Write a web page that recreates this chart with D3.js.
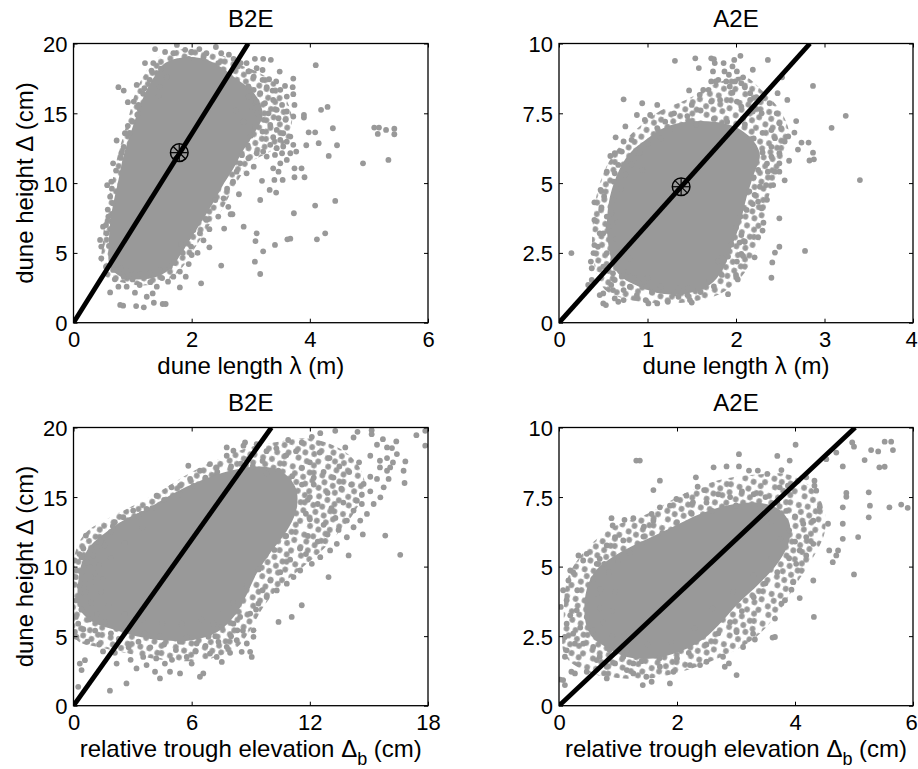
<!DOCTYPE html>
<html><head><meta charset="utf-8">
<script src="https://cdn.jsdelivr.net/npm/d3@7/dist/d3.min.js"></script>
<style>html,body{margin:0;padding:0;background:#fff;}svg{display:block;}</style>
</head><body>
<script>
// ---------- DATA ----------
const panelTitles = ["B2E", "A2E", "B2E", "A2E"];
const xLabelLength = "dune length λ (m)";
const yLabelHeight = "dune height Δ (cm)";

const xTicksLenB = [0, 2, 4, 6];
const xTicksLenA = [0, 1, 2, 3, 4];
const xTicksTroughB = [0, 6, 12, 18];
const xTicksTroughA = [0, 2, 4, 6];
const yTicksB = [0, 5, 10, 15, 20];
const yTicksA = [0, 2.5, 5, 7.5, 10];

// fitted lines through the origin (end points)
const fitLenB = [[0, 0], [2.958, 20]];
const fitLenA = [[0, 0], [2.836, 10]];
const fitTroughB = [[0, 0], [10.05, 20]];
const fitTroughA = [[0, 0], [5.02, 10]];

// mean markers
const meanLenB = [1.79, 12.18];
const meanLenA = [1.38, 4.87];

// dense cores: outline of the region fully covered by overlapping dots
const coreLenB = [[0.62,4.0],[0.6,6.0],[0.65,8.0],[0.75,10.0],[0.85,12.0],[0.97,13.6],[1.08,15.0],[1.22,16.5],[1.38,17.7],[1.55,18.6],[1.85,19.0],[2.2,18.9],[2.5,18.3],[2.75,17.5],[3.0,16.7],[3.15,15.8],[3.2,14.8],[3.05,13.5],[2.85,12.2],[2.7,11.0],[2.55,10.0],[2.42,9.0],[2.28,8.0],[2.13,7.0],[1.98,6.0],[1.83,5.0],[1.67,4.0],[1.45,3.35],[1.1,3.1],[0.8,3.3]];
const coreLenA = [[0.62,2.0],[0.55,3.0],[0.55,4.0],[0.62,5.0],[0.78,6.0],[1.0,6.6],[1.2,7.0],[1.45,7.2],[1.75,7.2],[2.0,7.0],[2.2,6.5],[2.27,6.0],[2.2,5.3],[2.12,4.5],[2.05,3.6],[1.95,2.7],[1.85,1.9],[1.7,1.35],[1.45,1.05],[1.15,1.05],[0.9,1.3],[0.72,1.6]];
const coreTroughB = [[0.3,7.0],[0.3,9.5],[0.7,11.2],[1.5,12.3],[2.5,13.3],[3.8,14.2],[5.0,15.2],[6.5,16.2],[8.0,16.9],[9.5,17.2],[10.6,16.8],[11.3,15.6],[11.3,14.0],[10.8,12.5],[10.0,11.0],[9.3,9.5],[8.8,8.0],[8.2,6.5],[7.3,5.3],[6.0,4.7],[4.5,4.7],[3.2,5.0],[2.0,5.5],[1.0,6.0]];
const coreTroughA = [[0.45,3.0],[0.45,4.0],[0.6,4.8],[0.95,5.4],[1.4,5.9],[1.9,6.4],[2.4,6.9],[2.85,7.2],[3.35,7.3],[3.7,7.1],[3.9,6.6],[3.9,5.9],[3.7,5.1],[3.4,4.4],[3.05,3.7],[2.75,3.0],[2.45,2.4],[2.05,1.95],[1.6,1.7],[1.15,1.75],[0.8,2.1],[0.55,2.5]];

// halos: outline of the partly covered (speckled) region around each core
const haloLenB = [[0.5,3.5],[0.5,6],[0.55,8],[0.65,10],[0.75,12],[0.85,13.5],[0.95,15],[1.05,16.5],[1.2,17.8],[1.4,18.9],[1.7,19.5],[2.1,19.6],[2.5,19.2],[2.8,18.5],[3.1,18.0],[3.4,17.2],[3.6,16.0],[3.7,14.5],[3.6,13],[3.3,12.2],[3.0,11.5],[2.8,10.3],[2.65,9.2],[2.5,8],[2.3,7],[2.15,6],[2.0,5],[1.85,4],[1.65,3.2],[1.3,2.7],[0.9,2.8]];
const haloLenA = [[0.45,1.5],[0.38,2.5],[0.38,3.5],[0.42,4.5],[0.52,5.5],[0.68,6.3],[0.9,7.0],[1.15,7.6],[1.45,8.0],[1.8,8.6],[2.1,8.8],[2.3,8.3],[2.5,7.6],[2.6,6.8],[2.55,6.0],[2.45,5.2],[2.35,4.3],[2.3,3.3],[2.2,2.4],[2.05,1.6],[1.8,1.0],[1.5,0.75],[1.1,0.7],[0.75,0.85],[0.55,1.1]];
const haloTroughB = [[0.05,5.0],[0.05,10.8],[0.6,12.4],[1.8,13.5],[3.2,14.5],[4.6,15.6],[6.0,16.8],[7.5,17.8],[9.0,18.6],[10.5,19.0],[12.0,19.2],[13.5,18.5],[14.5,17.2],[14.8,15.6],[14.3,14.0],[13.5,12.5],[12.5,11.0],[11.5,9.8],[10.5,8.6],[9.6,7.0],[9.0,5.5],[8.3,4.2],[7.0,3.4],[5.5,3.2],[4.0,3.4],[2.6,3.8],[1.3,4.2],[0.4,4.5]];
const haloTroughA = [[0.1,1.8],[0.08,3.2],[0.15,4.6],[0.45,5.6],[0.9,6.4],[1.5,6.9],[2.1,7.6],[2.7,8.1],[3.3,8.3],[3.9,8.3],[4.3,7.8],[4.5,7.0],[4.5,6.2],[4.3,5.3],[4.0,4.3],[3.7,3.3],[3.3,2.4],[2.8,1.8],[2.2,1.3],[1.6,1.0],[1.0,1.0],[0.5,1.2]];

// individual dots (x, y)
const ptsLenB = [[1.75,19.9],[1.38,19.6],[1.55,19.4],[1.69,19.3],[1.89,19.55],[2.0,19.4],[2.13,19.6],[2.25,19.3],[2.41,19.75],[2.5,19.3],[2.63,19.2],[2.71,18.9],
[1.21,18.6],[1.32,18.06],[1.48,18.2],[1.58,17.6],[1.46,16.9],[1.29,17.4],[1.18,16.4],[1.44,16.25],[1.12,15.3],[1.02,15.84],[0.92,15.8],[1.08,14.9],[0.92,14.1],[0.73,13.05],[0.87,13.57],[0.81,12.14],[0.67,11.42],[0.64,10.1],[0.57,9.85],[0.76,16.87],[0.85,16.63],[1.07,17.03],
[2.83,18.6],[2.93,18.6],[2.78,18.35],[2.96,18.0],[3.07,18.9],[3.21,18.9],[3.34,18.83],[3.10,18.23],[3.20,18.1],[3.05,17.63],[3.2,17.4],[3.31,17.44],[3.49,17.99],[3.43,17.28],[3.58,16.96],[3.72,17.49],[3.71,16.87],[3.72,16.37],[3.61,16.2],[3.50,16.68],[3.37,16.63],[3.27,16.87],[3.16,16.44],[3.05,16.68],[2.96,16.92],[2.96,16.2],[3.10,15.84],[3.24,15.72],[3.38,15.96],[3.53,15.6],[3.61,15.13],[3.44,15.25],[3.30,15.0],[3.74,15.6],[3.90,14.89],[3.90,14.7],[3.72,14.77],[3.59,14.53],[3.47,14.65],[3.22,14.53],[3.10,15.0],[3.01,15.48],[3.07,14.05],[3.20,13.69],[3.33,14.17],[3.44,13.81],[3.55,13.57],[3.38,13.29],[3.50,13.09],[3.61,12.97],[3.72,12.74],[3.67,13.33],[3.55,12.62],[3.44,12.5],[3.33,12.74],[3.21,12.26],[3.10,12.14],[3.27,11.9],[3.41,12.02],[3.53,12.14],[3.67,12.14],[3.77,12.26],[3.61,11.66],[3.50,11.42],[3.38,11.06],[3.47,10.82],[3.74,11.06],[3.86,11.06],[3.74,10.42],[3.91,10.42],[3.19,10.16],[3.40,10.23],[3.54,10.23],[3.32,9.51],[3.43,9.32],[3.16,8.79],[3.05,11.18],[2.93,10.7],[2.82,11.42],[2.96,11.78],[2.76,10.82],
[3.98,13.64],[4.09,13.64],[3.94,12.71],[4.15,12.86],[4.19,15.25],[4.30,15.46],[4.39,13.93],[4.32,11.95],[4.46,12.71],[4.10,18.45],[4.90,11.42],[5.09,13.98],[5.17,13.98],[5.29,13.81],[5.43,13.9],[5.15,13.52],[5.43,13.5],[5.33,11.66],
[4.43,8.72],[4.09,8.39],[4.26,6.4],[4.12,5.97],[3.73,7.84],[3.62,5.97],[3.67,6.02],[3.41,5.57],[3.21,5.11],[3.08,5.85],[3.10,6.4],[3.07,4.37],[3.16,3.49],[2.88,6.88],[2.66,7.77],[2.69,7.77],[2.55,6.74],[2.50,4.09],[2.30,5.40],[2.16,2.82],[2.0,4.85],[1.99,5.45],[1.82,5.64],[1.80,2.53],[2.25,7.36],[2.40,8.79],[2.54,8.91],[2.14,6.4],[2.03,6.64],
[0.45,5.93],[0.47,4.61],[0.55,4.01],[0.62,2.17],[0.79,1.27],[0.84,1.22],[1.06,1.19],[1.19,1.1],[1.36,1.43],[1.51,1.34],[1.56,1.34],[1.04,2.15],[1.24,1.86],[1.41,2.58],[1.34,2.1],[1.12,2.7],[0.90,2.58],[0.76,2.58],[0.70,3.11],[0.85,3.3],[1.60,2.94],[1.69,3.3],[1.80,3.66],[1.63,4.01],[1.46,3.78],[1.29,3.54],[1.12,3.49],[0.98,3.78],[0.67,3.78],[0.47,5.45],[0.56,6.4],[0.50,6.88],[0.59,7.6],[0.67,8.55],[0.62,9.03],
[2.6,9.6],[2.7,10.1],[2.62,8.3],[2.8,9.2],[2.45,7.6],[2.3,6.7],[2.2,5.9],[2.1,5.0],[1.95,4.2],[1.9,3.3],[2.85,12.0],[2.95,12.7],[3.0,13.4],[2.88,14.4],[2.75,15.2],[2.6,17.6],[2.45,18.6],[2.2,19.0],[1.95,18.9],
[0.7,5.0],[0.6,5.5],[0.55,7.0],[0.65,9.6],[0.72,10.9],[0.8,11.8],[0.85,12.6],[0.95,13.6],[1.0,14.4],[1.1,15.6],[1.2,16.8],[1.35,18.6],[0.58,8.1],[0.68,4.5],[0.8,3.9],[1.0,3.1],[1.3,2.9],[1.5,3.2],[1.7,4.3],[1.85,5.0]];

const ptsLenA = [[1.31,9.38],[1.54,9.47],[1.58,9.12],[1.72,9.47],[1.75,9.44],[1.76,9.3],[1.86,9.3],[1.96,9.18],[2.05,9.56],[1.98,9.41],[2.19,9.06],[2.36,9.41],[1.74,9.0],[1.87,9.0],[1.92,8.88],[2.01,9.0],[2.08,8.79],[2.06,8.58],[1.99,8.64],[1.89,8.64],[1.80,8.7],[1.77,8.64],[1.72,8.64],[1.63,8.34],[1.69,8.34],[1.93,8.46],[2.10,8.43],[2.16,8.22],[2.23,8.08],[2.47,8.22],[2.52,8.79],[2.58,7.98],[2.87,8.48],[3.24,7.41],[3.08,6.98],[3.40,5.11],[1.47,8.32],[1.59,8.16],[1.72,7.92],[1.82,7.98],[1.96,8.24],[2.01,7.92],[2.16,7.98],[2.06,7.74],[2.19,7.56],[2.29,7.5],[2.38,7.86],[2.46,7.5],[2.68,7.22],[2.66,6.81],[2.49,7.14],[2.51,6.97],[2.40,6.9],[2.59,6.67],[2.55,6.49],[2.44,6.61],[2.74,6.45],[2.82,6.45],[2.87,6.09],[2.83,5.81],[2.88,5.85],[2.49,6.07],[2.40,5.95],[2.49,5.71],[2.44,5.41],[2.36,5.41],[2.49,5.41],[2.42,4.93],[2.34,4.93],[2.25,5.47],[2.27,4.87],[2.21,4.58],[2.25,4.34],[2.29,4.10],[2.19,4.25],[2.12,4.04],[2.31,3.58],[2.49,3.74],[2.25,3.06],[2.21,2.34],[2.49,2.72],[2.44,2.51],[2.41,2.16],[2.40,1.61],[2.78,2.57],[2.06,2.46],[2.08,2.39],[2.01,2.19],[2.04,2.87],[2.06,3.14],[1.84,1.71],[2.00,1.71],[2.02,1.55],[1.91,1.02],[1.84,2.31],[1.91,2.37],
[1.50,0.72],[1.48,0.81],[1.35,0.93],[1.23,0.75],[1.11,0.69],[1.01,0.69],[0.98,0.81],[1.46,1.23],[1.57,1.23],[1.35,1.23],[1.12,1.17],[0.99,1.29],[0.88,0.99],[0.73,0.81],[0.67,0.75],[0.63,0.87],[0.50,0.69],[0.53,0.63],[0.50,1.05],[0.46,0.99],[0.61,1.17],[0.73,1.17],[0.80,1.29],[0.91,1.41],
[0.14,2.49],[0.33,1.35],[0.37,1.53],[0.37,1.95],[0.36,2.19],[0.39,2.49],[0.40,2.78],[0.46,3.2],[0.40,3.68],[0.48,4.13],[0.40,4.31],[0.51,4.52],[0.47,4.76],[0.62,5.05],[0.63,5.35],[0.54,5.41],[0.67,5.65],[0.58,5.97],[0.63,6.07],[0.71,6.13],[0.82,5.67],[0.73,6.49],[0.64,6.64],[0.75,7.03],[0.73,8.0],[0.94,7.86],[1.11,7.8],[1.03,7.44],[0.97,7.26],[0.88,7.44],[0.82,6.55],[0.91,6.09],[0.94,5.47],[1.11,6.97],
[0.50,3.2],[0.56,3.44],[0.54,3.8],[0.59,3.92],[0.44,2.72],[0.54,2.49],[0.50,2.01],[0.65,2.01],[0.61,1.77],[0.71,1.65],[0.78,1.83],[0.63,1.53],[0.59,1.35],
[1.2,7.2],[1.3,7.5],[1.45,7.4],[1.6,7.6],[1.5,7.8],[1.25,6.9],[1.9,7.2],[2.1,7.1],[2.3,6.8],[2.2,6.3],[2.3,6.1],[2.35,5.7],[2.2,5.2],[2.15,4.7],[2.05,3.8],[2.0,3.4],[1.95,2.8],[1.8,2.2],[1.7,1.5],[1.6,1.1],[1.3,1.05],[1.05,1.1],[0.85,1.6],[0.8,2.3],[0.7,2.6],[0.65,3.0],[0.66,3.6],[0.62,4.4],[0.7,4.8],[0.75,5.3],[0.85,5.9],[1.0,6.4],[1.15,6.6],[1.55,7.1],[1.75,7.3],[1.95,6.9],[2.2,6.6],[2.4,6.3],[1.0,1.6],[1.15,1.3],[1.45,1.0],[1.75,1.3],[2.1,2.9],[2.3,3.3],[2.35,4.4],[2.55,5.1],[2.6,5.8],[2.7,6.2]];

const ptsTroughB = [[17.41,19.45],[17.86,19.76],[17.86,18.69],[16.85,17.56],[16.76,16.89],[16.81,16.01],[16.39,19.0],[15.92,18.57],[16.17,18.52],[15.41,18.76],[15.71,19.16],[15.14,19.81],[15.14,19.52],[14.42,19.69],[14.22,19.28],[13.29,19.76],[12.53,19.59],[12.10,19.33],[11.59,18.92],[13.80,18.57],[15.07,17.97],[15.56,17.61],[15.92,17.8],[15.56,17.13],[16.08,17.13],[16.22,17.49],[15.41,16.3],[16.0,16.3],[15.07,16.46],[14.73,15.94],[15.07,15.41],[14.64,15.17],[14.64,14.5],[14.39,14.74],[14.22,14.03],[13.88,13.31],[13.46,12.64],[14.69,12.31],[15.83,12.23],[16.59,10.85],[13.97,10.8],[12.95,9.25],[11.59,7.22],[11.08,6.38],[10.41,6.02],[9.27,6.91],[9.14,5.42],[9.05,3.51],[8.97,3.87],[8.54,3.87],[8.32,5.42],[7.95,3.8],[7.53,3.15],[7.27,3.51],[6.93,3.75],[6.59,2.32],[6.42,2.08],[6.0,3.03],[5.75,3.51],[5.41,2.32],[4.90,2.44],[4.64,3.03],[4.39,1.96],[4.14,2.44],[3.71,2.92],[3.54,3.51],[3.20,2.68],[2.69,1.6],[1.85,1.08],[2.19,3.03],
[0.24,1.36],[0.41,2.56],[0.32,3.03],[0.58,3.27],[0.15,4.95],[0.07,5.3],[0.24,5.9],[0.12,6.38],[0.15,7.57],[0.32,7.81],[0.12,9.25],[0.05,10.44],[0.15,9.72],[0.63,12.23],[0.41,10.68],[0.83,9.96],[0.58,8.77],[1.17,11.4],[1.59,11.52],[2.1,13.19],[2.53,13.55],[3.03,14.03],[3.46,13.79],[3.71,14.15],[4.22,15.1],[4.98,15.7],[5.41,15.82],[5.92,16.3],[6.42,16.89],[6.93,17.37],[7.27,17.13],[7.78,17.97],[8.12,18.33],[8.63,18.69],[8.71,18.92],[7.78,18.57],[8.88,17.73],[5.83,17.25],
[5.75,4.95],[6.25,4.47],[6.85,4.95],[7.36,4.59],[7.78,4.23],[8.29,4.71],[8.80,4.47],[9.14,4.95],[8.12,5.9],[7.53,5.66],[7.10,5.9],[8.46,6.38],[8.97,6.62],[9.39,7.34],[9.81,7.81],[10.32,8.29],[10.83,8.77],[11.17,9.25],[11.51,9.72],[12.10,10.2],[12.53,10.68],[13.03,11.16],[13.37,11.64],[13.88,12.11],[14.22,12.83],[14.56,13.31],[14.9,13.79],[15.24,14.5],[15.58,14.98],[15.75,15.7],[15.92,16.89],[16.42,18.09],
[12.0,17.5],[12.5,18.2],[13.0,17.8],[13.5,17.2],[14.0,16.8],[14.5,17.5],[13.2,16.4],[12.7,16.8],[12.2,15.9],[12.9,15.3],[13.6,15.6],[14.1,15.9],[12.4,14.5],[13.1,14.2],[13.7,14.6],[12.0,13.4],[12.7,13.0],[13.3,13.5],[11.9,12.2],[12.4,11.8],[12.9,12.3],[11.5,11.3],[11.0,10.5],[11.8,10.9],[10.5,9.6],[10.0,9.0],[9.6,8.3],[11.3,18.3],[10.8,18.0],[10.3,18.5],[9.8,18.3],[9.3,18.8],[10.9,19.1],[9.6,17.6],[11.6,17.1],[12.2,16.4],[11.9,14.8],[11.8,13.8],
[0.5,5.5],[0.8,6.2],[0.4,6.9],[0.9,7.4],[0.6,8.2],[0.3,8.6],[0.9,8.9],[0.4,9.6],[1.1,9.5],[0.7,10.3],[0.3,10.9],[1.0,10.8],[1.3,10.1],[0.5,11.3],[1.4,11.9],[1.9,12.5],[1.2,6.6],[1.6,6.0],[1.1,5.4],[0.7,4.6],[1.3,4.4],[1.9,5.2],[1.5,3.9],[2.3,4.8],[2.6,5.4],[2.1,3.8],[2.8,4.2],[3.3,4.6],[3.9,4.2],[4.6,4.4],[5.2,4.0],[4.2,3.4],[5.0,3.3],[2.9,3.3],[3.6,5.2],[4.4,5.0],[5.4,4.6],[6.2,3.9],[6.7,4.3],[7.2,5.0],[8.0,5.0],[8.6,5.4],[2.0,12.9],[2.8,13.2],[3.3,13.6],[4.0,14.2],[4.6,14.8],[5.4,15.2],[6.1,15.8],[6.7,16.4],[7.3,16.8],[8.0,17.2],[8.5,17.4],[9.1,17.2],[9.8,16.7],[10.4,16.9],[11.1,16.5],[11.6,15.9],[12.0,15.0],[10.8,12.2],[10.2,11.2],[9.4,9.8],[8.8,8.6],[8.1,7.4],[7.4,6.6],[6.5,6.2],[5.5,5.9],[4.5,5.9],[3.5,6.2],[2.6,6.6],[1.8,7.2],[1.4,8.2],[1.5,9.1],[1.9,10.6],[2.6,11.7],[3.5,12.8]];

const ptsTroughA = [[1.31,8.81],[1.37,8.81],[1.60,7.75],[1.71,8.09],[2.32,8.21],[2.35,7.87],[2.46,7.75],[2.62,8.57],[2.84,8.6],[3.05,9.04],[3.05,8.6],[3.22,8.45],[3.37,8.45],[3.53,8.33],[3.70,8.98],[3.91,8.81],[4.01,9.38],[3.77,8.47],[3.74,7.85],[3.88,7.91],[4.19,8.21],[4.33,8.09],[4.33,7.91],[4.36,7.73],[4.53,8.86],[4.70,9.1],[4.81,8.6],[4.97,9.46],[5.0,9.31],[5.29,9.19],[5.41,9.14],[5.52,9.49],[5.63,9.49],[5.66,9.19],[5.43,8.57],[5.52,8.59],[5.18,8.83],[5.80,7.23],[5.91,7.11],[5.60,7.13],[5.25,7.67],[5.27,7.19],[5.25,6.77],[5.07,6.06],[5.0,4.72],[4.87,7.65],[4.87,7.51],[4.81,7.13],[4.81,6.54],[4.81,6.0],[4.73,5.58],[4.70,5.4],[4.58,5.58],[4.64,5.16],[4.56,6.54],[4.42,7.13],[4.31,6.65],[4.14,6.54],[4.19,6.06],[4.31,5.82],[4.08,5.58],[4.19,5.4],[4.02,5.1],[4.31,4.5],[4.08,3.87],[3.97,4.44],[3.94,4.17],[3.77,3.67],[3.83,3.79],[3.66,3.13],[3.62,2.45],[3.66,2.47],[4.32,3.19],[3.32,2.38],[3.29,2.59],[3.12,2.11],[3.01,2.65],[2.88,1.52],[3.01,1.1],[2.81,1.4],[2.78,1.76],[2.50,1.58],[2.39,1.46],[2.22,1.46],[1.88,0.8],[1.57,0.86],[1.42,0.74],[1.48,1.04],[1.94,1.22],[1.71,1.4],[1.26,1.16],[1.15,1.28],[0.81,0.98],[0.64,1.64],[0.47,1.22],[0.27,1.16],[0.21,1.22],[0.07,0.92],[0.02,0.94],[0.10,0.74],
[0.03,3.55],[0.13,3.79],[0.07,4.15],[0.16,4.5],[0.24,4.8],[0.19,4.86],[0.31,4.15],[0.13,2.95],[0.10,2.47],[0.13,1.99],[0.10,1.76],[0.24,2.59],[0.27,2.23],[0.36,2.81],[0.19,3.25],[0.33,5.4],[0.47,5.46],[0.41,5.22],[0.58,4.56],[0.64,4.03],[0.47,3.79],[0.30,3.43],[0.47,3.19],[0.58,2.71],[0.41,2.23],[0.58,2.11],[0.69,1.76],[0.81,1.4],[0.95,1.52],[1.09,1.76],[1.26,1.52],[0.86,2.0],[1.03,2.11],
[0.89,6.74],[0.91,6.48],[1.11,6.68],[0.95,6.06],[0.81,5.76],[0.69,5.28],[0.64,5.1],[0.77,5.1],[1.09,5.94],[1.26,6.74],[1.44,6.44],[1.57,6.89],[1.71,7.13],[1.88,7.19],[1.99,7.43],[2.16,7.55],[2.27,7.31],[1.60,6.65],[1.43,6.08],
[2.5,7.3],[2.7,7.6],[2.9,7.5],[3.1,7.7],[3.3,7.6],[3.5,7.5],[3.7,7.3],[3.85,7.0],[4.0,6.8],[3.9,6.3],[4.0,5.9],[3.9,5.3],[3.7,4.8],[3.5,4.4],[3.3,3.9],[3.1,3.4],[2.9,3.0],[2.7,2.6],[2.5,2.2],[2.2,1.9],[2.0,1.7],[1.7,1.7],[1.4,1.6],[1.15,2.0],[0.9,2.5],[0.75,3.0],[0.7,3.5],[0.7,4.2],[0.85,4.8],[1.0,5.2],[1.2,5.5],[1.4,5.8],[1.75,6.2],[2.0,6.6],[2.25,6.9],[2.6,7.0],[3.0,7.2],[3.4,7.1],[3.6,6.6],[3.75,6.0],[3.6,5.3],[3.3,4.7],[2.95,4.1],[2.6,3.5],[2.3,2.8],[1.9,2.3],[1.5,2.2],[1.1,2.6],[0.9,3.4],[0.95,4.1]];

// ---------- LAYOUT / STYLE ----------
const W = 918, H = 769;
const dotColor = "#999999";
const FONT = "'Liberation Sans', Arial, Helvetica, sans-serif";
const DOT_R = 2.9;

const panels = [
  {left: 73.5, top: 43.5, w: 354.5, h: 279.2, xDomain: [0, 6], yDomain: [0, 20], xTicks: xTicksLenB, yTicks: yTicksB,
   title: panelTitles[0], xlab: "len", ylab: true, core: coreLenB, halo: haloLenB, pts: ptsLenB, fit: fitLenB, mean: meanLenB},
  {left: 559, top: 43.5, w: 354, h: 279.2, xDomain: [0, 4], yDomain: [0, 10], xTicks: xTicksLenA, yTicks: yTicksA,
   title: panelTitles[1], xlab: "len", ylab: false, core: coreLenA, halo: haloLenA, pts: ptsLenA, fit: fitLenA, mean: meanLenA},
  {left: 73.5, top: 427.5, w: 354.5, h: 278.2, xDomain: [0, 18], yDomain: [0, 20], xTicks: xTicksTroughB, yTicks: yTicksB,
   title: panelTitles[2], xlab: "trough", ylab: true, core: coreTroughB, halo: haloTroughB, pts: ptsTroughB, fit: fitTroughB, mean: null},
  {left: 559, top: 427.5, w: 354, h: 278.2, xDomain: [0, 6], yDomain: [0, 10], xTicks: xTicksTroughA, yTicks: yTicksA,
   title: panelTitles[3], xlab: "trough", ylab: false, core: coreTroughA, halo: haloTroughA, pts: ptsTroughA, fit: fitTroughA, mean: null}
];

const svg = d3.select("body").append("svg").attr("width", W).attr("height", H)
  .style("font-family", FONT);
svg.append("rect").attr("width", W).attr("height", H).attr("fill", "#fff");
const defs = svg.append("defs");

// speckle texture used inside the partly covered halo region
const speckle = [[4,4],[13,3],[22,5],[27,12],[8,10],[17,11],[4,17],[12,18],[21,17],[27,23],[7,25],[16,26],[24,28],[26,4]];
const pat = defs.append("pattern").attr("id", "speckle").attr("patternUnits", "userSpaceOnUse")
  .attr("width", 31).attr("height", 31).attr("patternTransform", "rotate(17)");
pat.selectAll("circle").data(speckle).join("circle")
  .attr("cx", d => d[0]).attr("cy", d => d[1]).attr("r", DOT_R).attr("fill", dotColor);

panels.forEach((p, i) => {
  const g = svg.append("g").attr("transform", `translate(${p.left},${p.top})`);
  const x = d3.scaleLinear().domain(p.xDomain).range([0, p.w]);
  const y = d3.scaleLinear().domain(p.yDomain).range([p.h, 0]);
  const line = d3.line().x(d => x(d[0])).y(d => y(d[1])).curve(d3.curveCatmullRomClosed);

  defs.append("clipPath").attr("id", "clip" + i)
    .append("rect").attr("width", p.w).attr("height", p.h);
  const pg = g.append("g").attr("clip-path", `url(#clip${i})`);

  // partly covered halo, then fully covered core
  pg.append("path").datum(p.halo).attr("d", line).attr("fill", "url(#speckle)");
  pg.append("path").datum(p.core).attr("d", line).attr("fill", dotColor);

  // dots
  pg.selectAll("circle.pt").data(p.pts).join("circle").attr("class", "pt")
    .attr("cx", d => x(d[0])).attr("cy", d => y(d[1])).attr("r", DOT_R).attr("fill", dotColor);

  // fit line
  pg.append("line")
    .attr("x1", x(p.fit[0][0])).attr("y1", y(p.fit[0][1]))
    .attr("x2", x(p.fit[1][0])).attr("y2", y(p.fit[1][1]))
    .attr("stroke", "#000").attr("stroke-width", 4.8);

  // mean marker (circle + asterisk)
  if (p.mean) {
    const cx = x(p.mean[0]), cy = y(p.mean[1]), r = 8.8;
    const mg = g.append("g").attr("transform", `translate(${cx},${cy})`);
    mg.append("circle").attr("r", r).attr("fill", "none").attr("stroke", "#000").attr("stroke-width", 1.5);
    [0, 45, 90, 135].forEach(a => {
      const rad = a * Math.PI / 180, rr = r - 0.5;
      mg.append("line")
        .attr("x1", -rr * Math.cos(rad)).attr("y1", -rr * Math.sin(rad))
        .attr("x2", rr * Math.cos(rad)).attr("y2", rr * Math.sin(rad))
        .attr("stroke", "#000").attr("stroke-width", 1.2);
    });
  }

  // axes (ticks inward on all four sides)
  const styleAxis = sel => {
    sel.select(".domain").remove();
    sel.attr("font-family", FONT).attr("font-size", 22);
    sel.selectAll(".tick line").attr("stroke", "#000").attr("stroke-width", 1);
    sel.selectAll("text").attr("fill", "#000");
  };
  const ax = g.append("g").attr("transform", `translate(0,${p.h})`)
    .call(d3.axisBottom(x).tickValues(p.xTicks).tickSize(-4).tickSizeOuter(0).tickPadding(0).tickFormat(d => String(d)))
    .call(styleAxis);
  // keep the last tick label inside the page
  ax.selectAll("text").attr("y", 24).attr("dy", null)
    .attr("x", d => Math.min(0, W - 7 - (p.left + x(d))));
  g.append("g")
    .call(d3.axisTop(x).tickValues(p.xTicks).tickSize(-4).tickSizeOuter(0).tickFormat(""))
    .call(styleAxis);
  g.append("g")
    .call(d3.axisLeft(y).tickValues(p.yTicks).tickSize(-4).tickSizeOuter(0).tickPadding(6).tickFormat(d => String(d)))
    .call(styleAxis)
    .selectAll("text").attr("dy", null).attr("y", 8);
  g.append("g").attr("transform", `translate(${p.w},0)`)
    .call(d3.axisRight(y).tickValues(p.yTicks).tickSize(-4).tickSizeOuter(0).tickFormat(""))
    .call(styleAxis);

  // frame
  g.append("rect").attr("width", p.w).attr("height", p.h)
    .attr("fill", "none").attr("stroke", "#000").attr("stroke-width", 1.3);

  // title
  g.append("text").attr("x", p.w / 2).attr("y", -17).attr("text-anchor", "middle")
    .attr("font-size", 24).text(p.title);

  // x label
  const xt = g.append("text").attr("x", p.w / 2).attr("y", p.h + 51).attr("text-anchor", "middle")
    .attr("font-size", 24);
  if (p.xlab === "len") {
    xt.text(xLabelLength);
  } else {
    xt.append("tspan").text("relative trough elevation Δ");
    xt.append("tspan").attr("font-size", 18).attr("dy", 8).text("b");
    xt.append("tspan").attr("dy", -8).text(" (cm)");
  }

  // y label
  if (p.ylab) {
    g.append("text").attr("transform", `translate(${33 - p.left},${p.h / 2}) rotate(-90)`)
      .attr("text-anchor", "middle").attr("font-size", 24).text(yLabelHeight);
  }
});
</script>
</body></html>
